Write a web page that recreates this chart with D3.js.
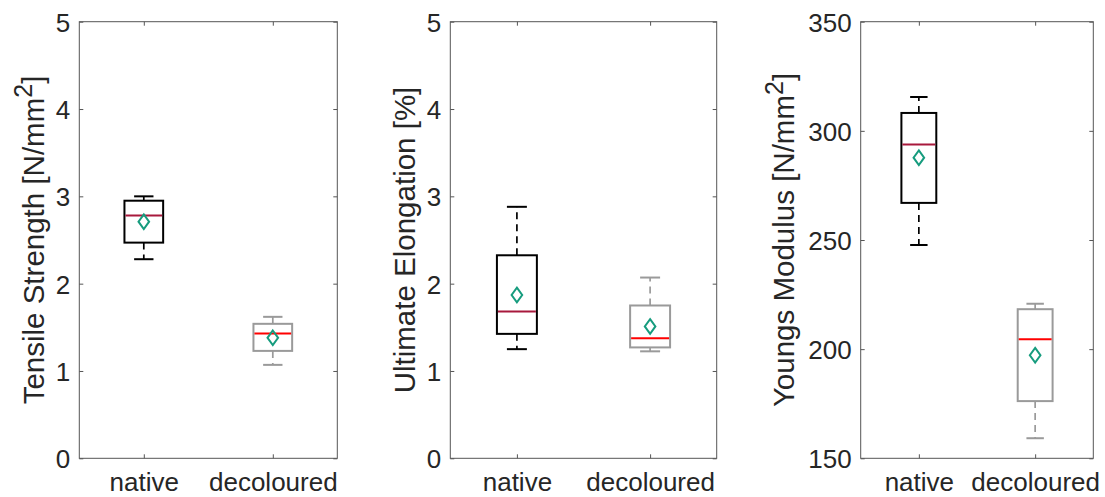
<!DOCTYPE html>
<html>
<head>
<meta charset="utf-8">
<script src="https://cdn.jsdelivr.net/npm/d3@7"></script>
<style>
  body { margin: 0; background: #fff; }
  svg { display: block; }
  text { font-family: "Liberation Sans", Arial, Helvetica, sans-serif; fill: #262626; }
</style>
</head>
<body>
<div id="chart"></div>
<script>
const categories = ["native", "decoloured"];
const groupColors = ["#000000", "#9a9a9a"];
const medianColors = ["#a8193c", "#ff0000"];

// tensile strength [N/mm2]
const tsLow = [2.28, 1.07];
const tsQ1 = [2.47, 1.23];
const tsMedian = [2.78, 1.43];
const tsQ3 = [2.95, 1.54];
const tsHigh = [3.00, 1.62];
const tsMean = [2.71, 1.38];

// ultimate elongation [%]
const ueLow = [1.25, 1.225];
const ueQ1 = [1.425, 1.27];
const ueMedian = [1.68, 1.375];
const ueQ3 = [2.325, 1.75];
const ueHigh = [2.88, 2.07];
const ueMean = [1.87, 1.51];

// youngs modulus [N/mm2]
const ymLow = [247.7, 159.2];
const ymQ1 = [267, 176.2];
const ymMedian = [293.7, 204.5];
const ymQ3 = [308.2, 218.3];
const ymHigh = [315.5, 220.8];
const ymMean = [287.7, 197.2];

const ticks0to5 = [0, 1, 2, 3, 4, 5];
const ticksModulus = [150, 200, 250, 300, 350];

const W = 1105, H = 497;
const plotTop = 21.7, plotBottom = 458.3;

var svg = d3.select("#chart")
    .append("svg")
    .attr("width", W)
    .attr("height", H);

function panel(opts) {
    var x = d3.scaleLinear().domain([0.5, 2.5]).range([opts.left, opts.right]);
    var y = d3.scaleLinear().domain(opts.domain).range([plotBottom, plotTop]);
    var g = svg.append("g");

    // frame with inward ticks
    var axisCol = "#555";
    var left = g.append("g").attr("transform", "translate(" + opts.left + ",0)")
        .call(d3.axisLeft(y).tickValues(opts.ticks).tickFormat(d3.format("d"))
            .tickSizeInner(-4).tickSizeOuter(0).tickPadding(9));
    left.selectAll("text").style("font-size", "26px").attr("dy", "0.36em");
    g.append("g").attr("transform", "translate(" + opts.right + ",0)")
        .call(d3.axisRight(y).tickValues(opts.ticks).tickSizeInner(-4).tickSizeOuter(0).tickFormat(""));
    var bot = g.append("g").attr("transform", "translate(0," + plotBottom + ")")
        .call(d3.axisBottom(x).tickValues([1, 2]).tickSizeInner(-4).tickSizeOuter(0)
            .tickFormat(function(d) { return categories[d - 1]; }));
    bot.selectAll("text").style("font-size", "26px").attr("y", 32.5).attr("dy", 0);
    g.append("g").attr("transform", "translate(0," + plotTop + ")")
        .call(d3.axisTop(x).tickValues([1, 2]).tickSizeInner(-4).tickSizeOuter(0).tickFormat(""));
    g.selectAll(".domain").remove();
    g.selectAll(".tick line").attr("stroke", axisCol);
    g.append("rect")
        .attr("x", opts.left).attr("y", plotTop)
        .attr("width", opts.right - opts.left).attr("height", plotBottom - plotTop)
        .attr("fill", "none").attr("stroke", axisCol).attr("stroke-width", 1);

    // y label
    var lab = g.append("text")
        .attr("transform", "translate(" + opts.labelX + "," + ((plotTop + plotBottom) / 2) + ")rotate(-90)")
        .attr("text-anchor", "middle")
        .style("font-size", "29.5px");
    lab.append("tspan").text(opts.label);
    if (opts.sup) {
        lab.append("tspan").attr("dy", "-0.45em").style("font-size", "25px").text(opts.sup);
        lab.append("tspan").attr("dy", "0.38em").text("]");
    }

    // boxes
    var bw = 0.3, cw = 0.15;
    var data = categories.map(function(c, i) {
        return { i: i, pos: i + 1, low: opts.low[i], q1: opts.q1[i], med: opts.med[i],
                 q3: opts.q3[i], high: opts.high[i], mean: opts.mean[i] };
    });
    var b = g.selectAll(".box").data(data).enter().append("g").attr("class", "box");

    // whiskers
    b.append("line")
        .attr("x1", function(d) { return x(d.pos); }).attr("x2", function(d) { return x(d.pos); })
        .attr("y1", function(d) { return y(d.q3); }).attr("y2", function(d) { return y(d.high); })
        .attr("stroke", function(d) { return groupColors[d.i]; })
        .attr("stroke-width", 1.7).attr("stroke-dasharray", "7,5");
    b.append("line")
        .attr("x1", function(d) { return x(d.pos); }).attr("x2", function(d) { return x(d.pos); })
        .attr("y1", function(d) { return y(d.q1); }).attr("y2", function(d) { return y(d.low); })
        .attr("stroke", function(d) { return groupColors[d.i]; })
        .attr("stroke-width", 1.7).attr("stroke-dasharray", "7,5");
    ["high", "low"].forEach(function(k) {
        b.append("line")
            .attr("x1", function(d) { return x(d.pos - cw / 2); })
            .attr("x2", function(d) { return x(d.pos + cw / 2); })
            .attr("y1", function(d) { return y(d[k]); })
            .attr("y2", function(d) { return y(d[k]); })
            .attr("stroke", function(d) { return groupColors[d.i]; })
            .attr("stroke-width", 2);
    });

    // box
    b.append("rect")
        .attr("x", function(d) { return x(d.pos - bw / 2); })
        .attr("width", function(d) { return x(d.pos + bw / 2) - x(d.pos - bw / 2); })
        .attr("y", function(d) { return y(d.q3); })
        .attr("height", function(d) { return y(d.q1) - y(d.q3); })
        .attr("fill", "none")
        .attr("stroke", function(d) { return groupColors[d.i]; })
        .attr("stroke-width", 2);

    // median
    b.append("line")
        .attr("x1", function(d) { return x(d.pos - bw / 2) + 1; })
        .attr("x2", function(d) { return x(d.pos + bw / 2) - 1; })
        .attr("y1", function(d) { return y(d.med); })
        .attr("y2", function(d) { return y(d.med); })
        .attr("stroke", function(d) { return medianColors[d.i]; })
        .attr("stroke-width", 2);

    // mean diamond
    b.append("path")
        .attr("d", function(d) {
            var cx = x(d.pos), cy = y(d.mean), hw = 5.3, hh = 7.3;
            return "M" + cx + "," + (cy - hh) + "L" + (cx + hw) + "," + cy +
                "L" + cx + "," + (cy + hh) + "L" + (cx - hw) + "," + cy + "Z";
        })
        .attr("fill", "none")
        .attr("stroke", "#169c7e")
        .attr("stroke-width", 2);
}

panel({ left: 79.3, right: 337.3, domain: [0, 5], ticks: ticks0to5, labelX: 43.5,
        label: "Tensile Strength [N/mm", sup: "2",
        low: tsLow, q1: tsQ1, med: tsMedian, q3: tsQ3, high: tsHigh, mean: tsMean });
panel({ left: 450.3, right: 716.7, domain: [0, 5], ticks: ticks0to5, labelX: 415,
        label: "Ultimate Elongation [%]",
        low: ueLow, q1: ueQ1, med: ueMedian, q3: ueQ3, high: ueHigh, mean: ueMean });
panel({ left: 860.7, right: 1093.3, domain: [150, 350], ticks: ticksModulus, labelX: 794,
        label: "Youngs Modulus [N/mm", sup: "2",
        low: ymLow, q1: ymQ1, med: ymMedian, q3: ymQ3, high: ymHigh, mean: ymMean });
</script>
</body>
</html>
